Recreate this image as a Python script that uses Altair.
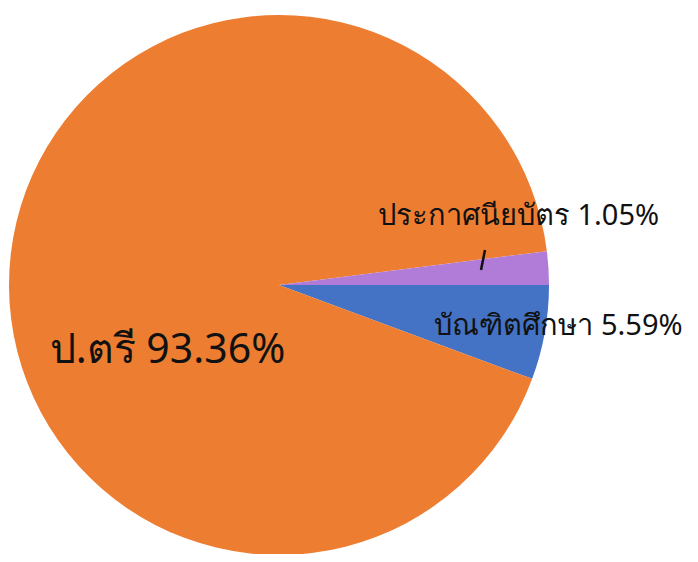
import math
import altair as alt
import pandas as pd

categories = ["บัณฑิตศึกษา", "ป.ตรี", "ประกาศนียบัตร"]
# slice sizes as drawn in the picture (the purple wedge is drawn wider than its label says)
slice_sizes = [5.65, 92.35, 2.0]
colors = ["#4472C4", "#ED7D31", "#B07CD8"]
label_text = ["บัณฑิตศึกษา 5.59%", "ป.ตรี 93.36%", "ประกาศนียบัตร 1.05%"]

df = pd.DataFrame({
    "cat": categories,
    "share": slice_sizes,
    "order": [0, 1, 2],
    "label": label_text,
})

CX, CY = 271, 277
R = 270
FONT = "Noto Sans"

theta_enc = alt.Theta("share:Q", stack=True,
                      scale=alt.Scale(range=[math.pi / 2, math.pi / 2 + 2 * math.pi]))
base = alt.Chart(df).encode(
    theta=theta_enc,
    order=alt.Order("order:Q"),
)

pie = base.mark_arc(outerRadius=R, stroke=None).encode(
    x=alt.value(CX), y=alt.value(CY),
    color=alt.Color("cat:N", scale=alt.Scale(domain=categories, range=colors), legend=None),
)

def lab(cat, radius, dx, dy, size):
    return base.mark_text(font=FONT, fontSize=size, color="#111111", dx=dx, dy=dy,
                          align="center", baseline="middle").encode(
        x=alt.value(CX), y=alt.value(CY),
        radius=alt.value(radius),
        text="label:N",
    ).transform_filter(alt.datum.cat == cat)

l_blue = lab("บัณฑิตศึกษา", 285, -1, -9, 29)
l_orange = lab("ป.ตรี", 120, 5, 37, 41)
l_purple = lab("ประกาศนียบัตร", 240, 0, -84, 29)

leader = alt.Chart(df).transform_filter(alt.datum.cat == "ประกาศนียบัตร").mark_rule(
    color="#111111", strokeWidth=2.5
).encode(x=alt.value(477), y=alt.value(242), x2=alt.value(473), y2=alt.value(262))

chart = alt.layer(pie, leader, l_blue, l_orange, l_purple).properties(
    width=682, height=546, padding=0, autosize=alt.AutoSizeParams(type="none"),
).configure_view(stroke=None)

chart.save("out.html", embed_options={"renderer": "svg", "actions": False})
